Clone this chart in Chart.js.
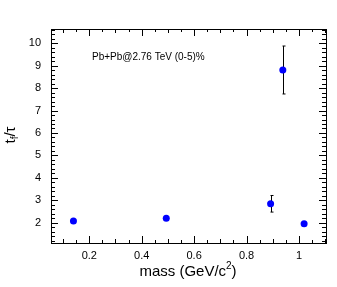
<!DOCTYPE html>
<html>
<head>
<meta charset="utf-8">
<script src="https://cdn.jsdelivr.net/npm/chart.js@4/dist/chart.umd.min.js"></script>
<style>
  html, body { margin: 0; padding: 0; background: #fff; }
  #wrap { width: 337px; height: 287px; }
</style>
</head>
<body>
<div id="wrap"><canvas id="c" width="337" height="287"></canvas></div>
<script>
// particle masses (GeV/c^2) and t_f/tau values
const particles = ['pi', 'K', 'K*', 'p', 'phi'];
const masses = [0.1396, 0.4937, 0.8917, 0.9383, 1.0195];
const ratios = [2.07, 2.19, 2.84, 8.81, 1.95];
const ratioErrors = [0, 0, 0.37, 1.07, 0];

const xTicks = [0.2, 0.4, 0.6, 0.8, 1];
const yTicks = [2, 3, 4, 5, 6, 7, 8, 9, 10];
const xRange = [0.054, 1.103];
const yRange = [1.09, 10.64];

const font = 'Liberation Sans, Arial, sans-serif';

// frame, inside ticks on all four sides, error bars, titles
const rootStyle = {
    id: 'rootStyle',
    beforeDatasetsDraw(chart) {
        const ctx = chart.ctx;
        const x = chart.scales.x, y = chart.scales.y;
        ctx.save();
        ctx.strokeStyle = '#000';
        ctx.lineWidth = 1;

        // error bars
        ctx.beginPath();
        masses.forEach((m, i) => {
            if (!ratioErrors[i]) return;
            const px = Math.round(x.getPixelForValue(m)) + 0.5;
            const y1 = y.getPixelForValue(ratios[i] + ratioErrors[i]);
            const y2 = y.getPixelForValue(ratios[i] - ratioErrors[i]);
            ctx.moveTo(px, y1); ctx.lineTo(px, y2);
            ctx.moveTo(px - 1, y1); ctx.lineTo(px + 2, y1);
            ctx.moveTo(px - 1, y2); ctx.lineTo(px + 2, y2);
        });
        ctx.stroke();
        ctx.restore();
    },
    afterDatasetsDraw(chart) {
        const ctx = chart.ctx;
        const x = chart.scales.x, y = chart.scales.y;
        const a = chart.chartArea;
        ctx.save();
        ctx.strokeStyle = '#000';
        ctx.lineWidth = 1;
        ctx.beginPath();
        // x ticks every 0.05, major at 0.2, medium at 0.1
        for (let k = 1; k <= 22; k++) {
            const v = k * 0.05;
            if (v < xRange[0] || v > xRange[1]) continue;
            const px = Math.round(x.getPixelForValue(v)) + 0.5;
            let len = 3;
            if (Math.abs(v / 0.2 - Math.round(v / 0.2)) < 1e-6) len = 7;
            else if (Math.abs(v / 0.1 - Math.round(v / 0.1)) < 1e-6) len = 4;
            ctx.moveTo(px, a.bottom); ctx.lineTo(px, a.bottom - len);
            ctx.moveTo(px, a.top); ctx.lineTo(px, a.top + len);
        }
        // y ticks every 0.2, major at integers
        for (let k = 5; k <= 54; k++) {
            const v = k * 0.2;
            if (v < yRange[0] || v > yRange[1]) continue;
            const py = Math.round(y.getPixelForValue(v)) + 0.5;
            const len = (k % 5 === 0) ? 7 : 4;
            ctx.moveTo(a.left, py); ctx.lineTo(a.left + len, py);
            ctx.moveTo(a.right, py); ctx.lineTo(a.right - len, py);
        }
        ctx.stroke();
        ctx.strokeRect(Math.round(a.left) + 0.5, Math.round(a.top) + 0.5,
            Math.round(a.right - a.left), Math.round(a.bottom - a.top));

        ctx.fillStyle = '#000';
        // annotation
        ctx.font = '10px ' + font;
        ctx.textBaseline = 'middle';
        ctx.textAlign = 'left';
        ctx.fillText('Pb+Pb@2.76 TeV (0-5)%', 92, 57);

        // x title with superscript
        ctx.textBaseline = 'alphabetic';
        const t1 = 'mass (GeV/c', t3 = ')';
        ctx.font = '15px ' + font;
        const w1 = ctx.measureText(t1).width;
        ctx.font = '10px ' + font;
        const w2 = ctx.measureText('2').width;
        ctx.font = '15px ' + font;
        const w3 = ctx.measureText(t3).width;
        let sx = 188 - (w1 + w2 + w3) / 2;
        ctx.fillText(t1, sx, 276);
        ctx.font = '10px ' + font;
        ctx.fillText('2', sx + w1, 269);
        ctx.font = '15px ' + font;
        ctx.fillText(t3, sx + w1 + w2, 276);

        // y title with subscript, rotated
        ctx.translate(15, 135);
        ctx.rotate(-Math.PI / 2);
        ctx.font = '15px ' + font;
        const a1 = ctx.measureText('t').width;
        ctx.font = '10px ' + font;
        const a2 = ctx.measureText('f').width;
        ctx.font = '15px ' + font;
        const a3 = ctx.measureText('/\u03c4').width;
        let sy = -(a1 + a2 + a3) / 2;
        ctx.fillText('t', sy, 0);
        ctx.font = '10px ' + font;
        ctx.fillText('f', sy + a1, 3);
        ctx.font = '15px ' + font;
        ctx.fillText('/\u03c4', sy + a1 + a2, 0);
        ctx.restore();
    }
};

new Chart(document.getElementById('c'), {
    type: 'scatter',
    data: {
        datasets: [{
            label: 't_f/tau',
            data: masses.map((m, i) => ({ x: m, y: ratios[i] })),
            backgroundColor: '#0000ff',
            borderColor: '#0000ff',
            pointRadius: 3.5,
            pointHoverRadius: 3.5,
            borderWidth: 0
        }]
    },
    options: {
        responsive: false,
        animation: false,
        events: [],
        layout: { padding: { top: 29, right: 11, left: 0, bottom: 0 } },
        plugins: { legend: { display: false }, tooltip: { enabled: false } },
        scales: {
            x: {
                type: 'linear',
                min: xRange[0], max: xRange[1],
                afterBuildTicks: s => { s.ticks = xTicks.map(v => ({ value: v })); },
                afterFit: s => { s.height = 44; },
                grid: { display: false, drawTicks: false },
                border: { display: false },
                ticks: {
                    color: '#000', padding: 6,
                    font: { family: font, size: 11 },
                    maxRotation: 0,
                    callback: v => String(v)
                }
            },
            y: {
                type: 'linear',
                min: yRange[0], max: yRange[1],
                afterBuildTicks: s => { s.ticks = yTicks.map(v => ({ value: v })); },
                afterFit: s => { s.width = 51; },
                grid: { display: false, drawTicks: false },
                border: { display: false },
                ticks: {
                    color: '#000', padding: 10,
                    font: { family: font, size: 11 },
                    callback: v => String(v)
                }
            }
        }
    },
    plugins: [rootStyle]
});
</script>
</body>
</html>
